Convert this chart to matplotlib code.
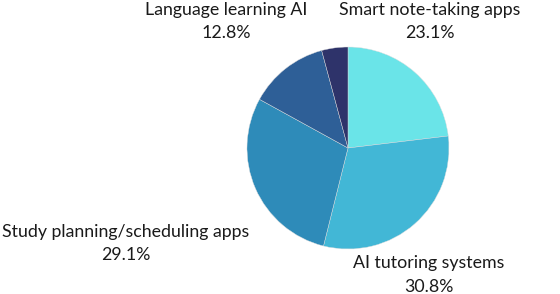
import matplotlib.pyplot as plt

categories = ['Smart note-taking apps', 'AI tutoring systems', 'Study planning/scheduling apps',
              'Language learning AI', 'Other']
shares = [23.1, 30.8, 29.1, 12.8, 4.2]
colors = ['#6ae4e8', '#42b7d6', '#2e8bb9', '#2e5f97', '#2e336a']
shown = [True, True, True, True, False]

# label baselines in pixel coords (x center, y of first line from top)
label_pos = [(430, 15), (429, 268), (126, 237), (226, 15), None]

plt.rcParams['font.family'] = ['Lato', 'DejaVu Sans']
fig = plt.figure(figsize=(5.6, 2.94), dpi=100)
ax = fig.add_axes([0, 0, 1, 1])

ax.pie(shares, colors=colors, startangle=90, counterclock=False,
       center=(348, 294 - 148), radius=101,
       wedgeprops=dict(linewidth=0.3, edgecolor='#dddddd'))
ax.set_xlim(0, 560)
ax.set_ylim(0, 294)
ax.set_aspect('equal')
ax.axis('off')

for name, val, pos, show in zip(categories, shares, label_pos, shown):
    if not show:
        continue
    x, y = pos
    ax.text(x, 294 - y, name, ha='center', va='baseline', fontsize=12.8, color='#1a1a1a')
    ax.text(x, 294 - y - 23.5, '%.1f%%' % val, ha='center', va='baseline',
            fontsize=12.8, color='#1a1a1a')

fig.savefig('out.png', dpi=100, facecolor='white')
